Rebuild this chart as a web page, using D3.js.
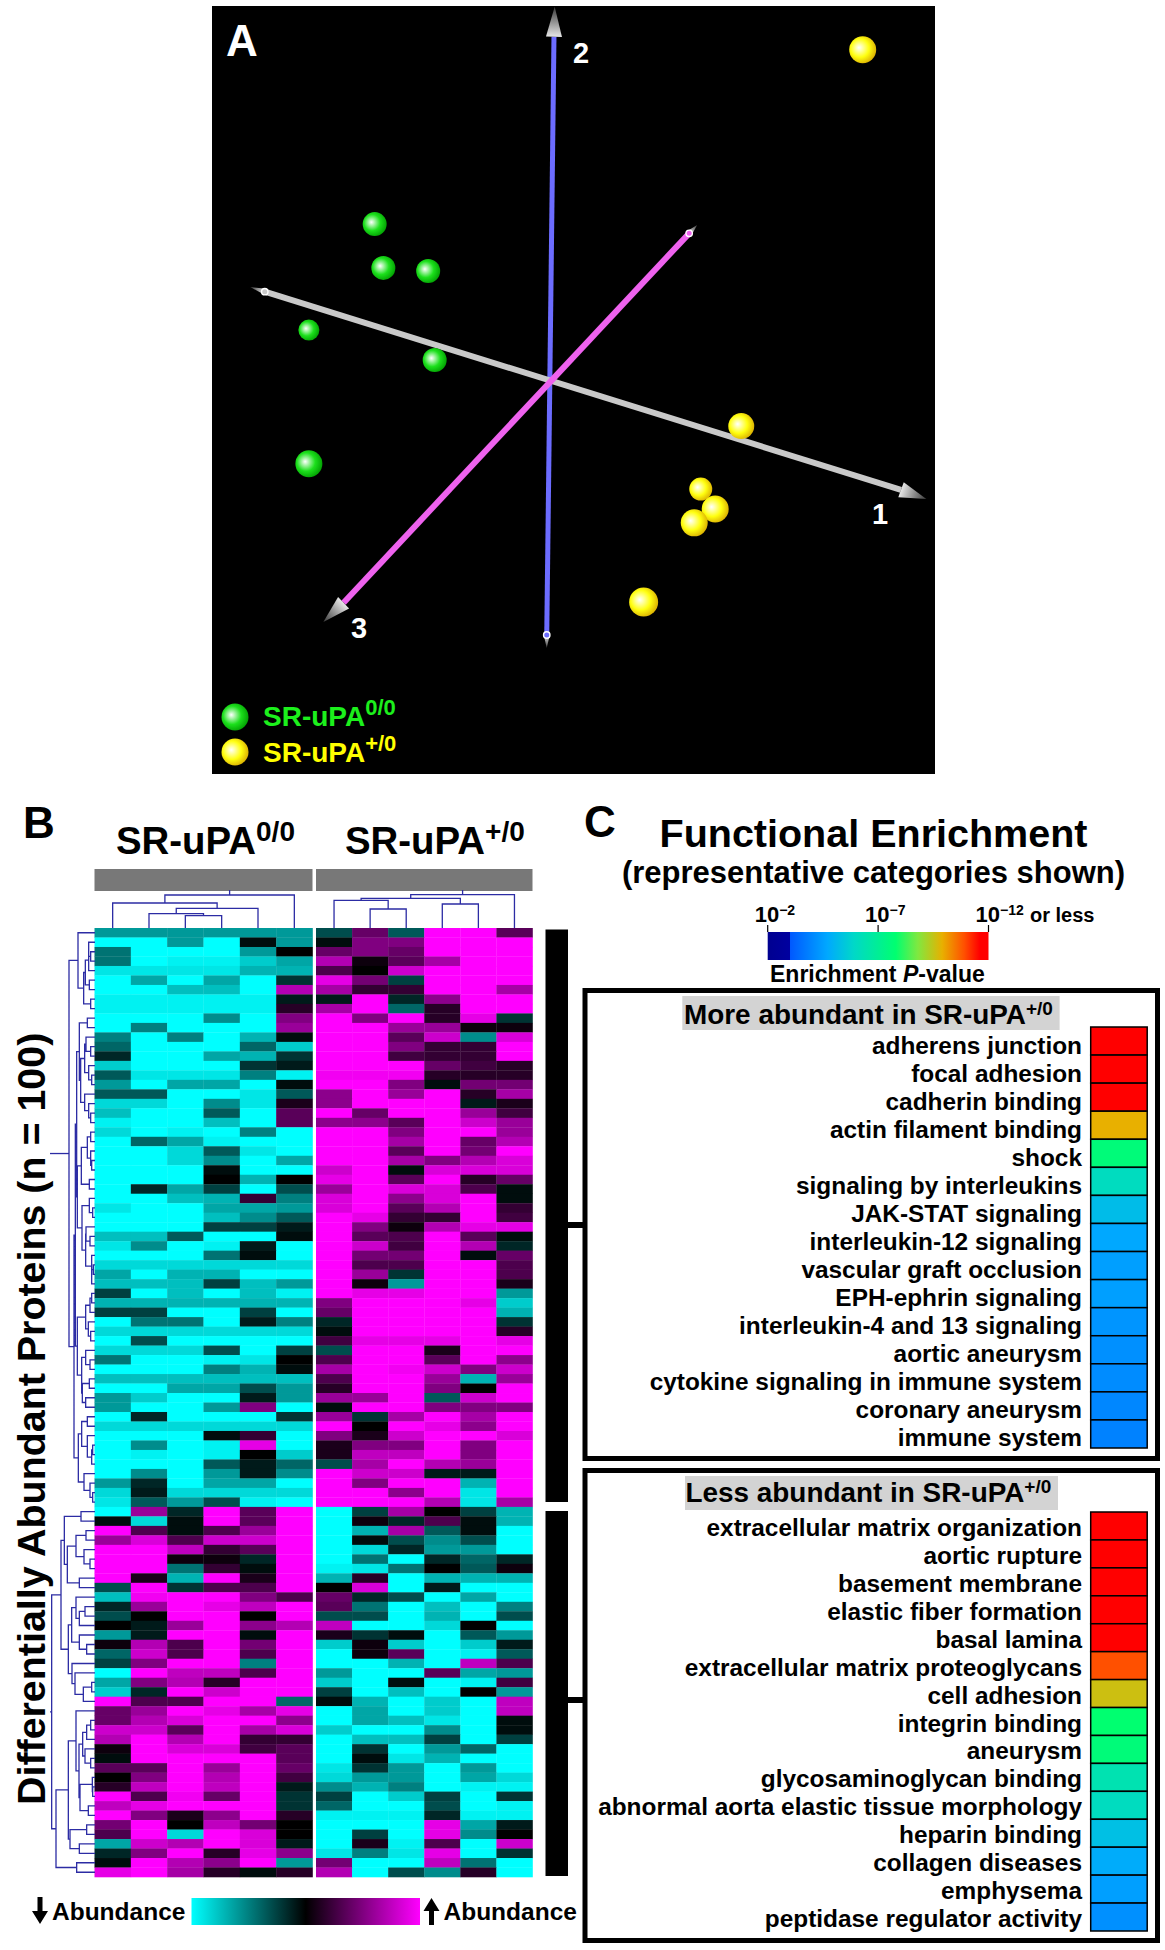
<!DOCTYPE html>
<html>
<head>
<meta charset="utf-8">
<style>
html, body { margin: 0; padding: 0; background: #fff; }
svg { display: block; }
text { font-family: "Liberation Sans", Arial, sans-serif; font-weight: bold; }
</style>
<script src="https://cdn.jsdelivr.net/npm/d3@7"></script>
</head>
<body>
<div id="chart"></div>
<script>
// heatmap values, -10 = full cyan, 0 = black, 10 = full magenta
const heatNull = [
[-6,-6,-6,-6,-6,-6],[-10,-10,-6,-10,-.5,-6],[-4.5,-10,-10,-10,-6,0],[-4.5,-10,-9.5,-9.5,-8,-6.5],[-9,-9,-9,-9,-7,-7],
[-10,-6.5,-10,-6.5,-10,-2],[-10,-10,-7.5,-7.5,-10,7],[-9.5,-9.5,-9.5,-9.5,-9.5,-1],[-9.5,-9.5,-9.5,-9.5,-9.5,1.5],[-10,-10,-10,-5.5,-10,5],
[-10,-5,-10,-10,-10,6],[-5,-10,-5,-10,-7,-.5],[-4,-10,-10,-10,-4,-8],[-1.5,-10,-10,-6.5,-7,-2],[-8,-10,-10,-10,-2,-1],
[-3.5,-9,-9,-9,-5,-9.5],[-6,-10,-6.5,-6.5,-10,-.5],[-3.5,-3.5,-10,-10,-9,-3.5],[-8.5,-8.5,-10,-5.5,-9,1],[-7.5,-10,-10,-3.5,-10,3.5],
[-9.5,-10,-10,-7.5,-10,3.5],[-8.5,-10,-9.5,-10,-5,-10],[-10,-4,-6.5,-9.5,-10,-10],[-10,-10,-8.5,-3.5,-9,-10],[-10,-10,-8.5,-5.5,-10,-6.5],
[-10,-10,-10,-.5,-10,-10],[-10,-10,-10,0,-7,0],[-10,-1.5,-6.5,-2.5,-10,-3],[-10,-10,-7.5,-7,2,-5],[-9,-10,-10,-6.5,-6.5,-6],
[-10,-10,-10,-7.5,-5.5,-3.5],[-10,-10,-10,-2.5,-2.5,-1],[-7.5,-7.5,-3.5,-10,-10,-.5],[-9,-5.5,-10,-9.5,-1,-10],[-10,-10,-10,-4.5,-.5,-10],
[-8.5,-8.5,-8.5,-8.5,-8.5,-8.5],[-6.5,-10,-7,-7,-10,-10],[-7.5,-7.5,-7.5,-2.5,-7.5,-6],[-2.5,-10,-7.5,-10,-7.5,-9.5],[-7,-7,-7,-7,-7,-7],
[-2.5,-2.5,-10,-10,-2.5,-10],[-10,-4.5,-4.5,-10,-1,-5],[-8.5,-8.5,-8.5,-8.5,-8.5,-8.5],[-10,-3,-10,-10,-10,-10],[-8.5,-8.5,-8.5,-3,-10,-2.5],
[-4.5,-10,-10,-9.5,-9,0],[-10,-10,-10,-5,-7,-.5],[-7.5,-7.5,-7.5,-7.5,-7.5,-7.5],[-10,-10,-6.5,-6.5,-3,-6],[-6,-8,-10,-10,-1,-6],
[-6,-10,-10,-6,5,-10],[-10,-1.5,-10,-10,-10,-2],[-8.5,-8.5,-8.5,-8.5,-8.5,-8.5],[-10,-10,-10,-.5,2,-10],[-10,-5.5,-10,-9.5,9,-10],
[-10,-9.5,-10,-9.5,0,-8],[-10,-10,-10,-3.5,-1,-4],[-10,-5.5,-10,-6,-1,-5.5],[-6,-1.5,-10,-6.5,-6.5,-10],[-8.5,-1,-8.5,-8.5,-8.5,-8.5],
[-9,-3.5,-6,-3,-9.5,-10],[-10,6,-1.5,10,3.5,10],[-.5,-8.5,-.5,10,3.5,10],[10,3,-.5,3,6,10],[6,8.5,3,8,8,10],
[10,10,7.5,2,3.5,10],[10,10,.5,.5,-1.5,10],[10,10,-4.5,2,-.5,10],[10,1,-7,10,1,10],[-3,10,-2,3,3,10],
[-7.5,9.5,10,10,5,3],[-1.5,6,10,9,7.5,10],[-3,0,10,10,0,10],[0,-1,6,10,5.5,7],[-6,-1,10,10,-.5,10],
[.5,7,3,10,4.5,10],[-4,8,3,10,3,10],[-2.5,5,10,10,-5,10],[-10,10,7.5,7.5,3,10],[-6.5,5,7,1.5,10,10],
[-8,-1.5,10,8,10,10],[10,3,3,10,10,-4],[4,6,10,9,6.5,9],[4,7,8.5,10,10,5.5],[8,8,3.5,10,6.5,8.5],
[7,10,7,10,2,2],[.5,10,8.5,8.5,2.5,3.5],[-.5,10,10,10,10,3.5],[3.5,3.5,10,6,10,4],[0,5,10,7,10,2.5],
[1.5,7.5,10,7.5,10,-1],[10,3,9.5,4,10,-2],[7.5,9,10,10,10,-2],[10,5,1,5.5,10,1.5],[4.5,10,0,7.5,4.5,0],
[3,10,-8.5,10,8.5,0],[-6.5,8,7,10,8.5,-1],[-1.5,5,10,1.5,9,5.5],[-.5,10,7,5.5,10,-6],[9,10,6.5,1.5,-.5,1.5]
];
const heatPlus = [
[-3,4,-3.5,10,10,3.5],[-.5,5,5,10,10,10],[4,5,4,10,10,10],[7,.5,3.5,6.5,10,10],[3,0,8,10,10,10],
[9,4.5,-2.5,10,10,10],[6.5,2,2,10,10,6.5],[-1,10,-1.5,5.5,10,10],[6.5,10,-4,1.5,10,10],[10,5,10,1.5,9,-2],
[10,10,6,6,.5,.5],[10,10,3.5,8,-5.5,8.5],[10,10,5,2,2,10],[10,10,2.5,2,2,10],[10,10,10,4,2.5,1.5],
[9.5,9.5,9.5,1.5,1.5,1.5],[10,10,5,-.5,4.5,4.5],[5.5,10,6,10,1.5,6.5],[5.5,10,10,10,-1,1],[10,4,10,10,6,2.5],
[5.5,5.5,3.5,10,8,6],[10,10,5,10,10,6],[10,10,6.5,10,4,7],[10,10,3.5,10,4.5,10],[10,10,6.5,5,7,8.5],
[8,10,-.5,8.5,8.5,8.5],[9,10,3.5,10,1.5,4],[6,10,8.5,8.5,3,-.5],[8.5,10,5.5,8.5,10,-.5],[8.5,10,3.5,7,10,2],
[10,9,2,2,10,2.5],[10,5,.5,7,9,9],[10,3.5,3,10,3.5,-.5],[10,8,2.5,10,7,-1.5],[10,4.5,4.5,10,-.5,4],
[10,3,3,10,10,3],[10,6,-2,10,10,3],[10,.5,-6,10,10,1],[10,9,9,10,10,-6],[5,10,10,10,9,-8],
[4,10,10,10,10,-7],[-1.5,10,10,10,10,-2],[-.5,10,10,10,10,1.5],[2.5,9,9,9,10,9],[-3,10,10,1,10,10],
[3,10,10,3.5,10,5.5],[6.5,10,9.5,8,5,8],[3,10,10,6,-7,6],[1.5,10,10,5,0,10],[6,6,10,-3.5,8,10],
[-.5,10,10,5,5,5],[6,-2,6.5,10,6.5,10],[10,0,10,9,5.5,10],[5,1,8,10,10,8.5],[1,5,5,10,5,10],
[1,7.5,7.5,10,5,10],[-3,6.5,10,7,6,10],[10,8,8,-1,-1,10],[10,5,10,10,-7,10],[10,10,5.5,10,-9,10],
[10,10,10,7,-9,6.5],[-10,-2.5,6.5,0,-2.5,-7],[-10,.5,-1.5,3,-.5,-7],[-10,-7,6.5,-3.5,-.5,-10],[-10,-.5,-3,-5.5,-3,-10],
[-10,-8.5,-1.5,-6,-6,-10],[-10,-4.5,-10,-1.5,-4,-1.5],[-9.5,-9,-4.5,0,-3.5,.5],[-7,1.5,-10,-7,-7,-7],[0,8.5,-10,-1,-10,-10],
[4,-1.5,-3,-10,-6.5,-10],[3.5,-4.5,-10,-7.5,-10,-5],[-3,-3,-10,-7,-10,-3],[7.5,-10,-10,-8.5,0,-10],[1,-2,-.5,-10,-3.5,-6],
[-8,.5,-8,-10,-8,-1],[-10,.5,3.5,-10,-9.5,-3.5],[-10,-10,-7,-10,7.5,3],[-6,-10,-10,3.5,-6.5,-6],[-8,-10,-.5,-10,-9.5,2.5],
[-2.5,-10,-7.5,-10,0,-6],[-.5,-7,-10,-8,-10,7.5],[-10,-6.5,-10,-8,-10,7.5],[-10,-6.5,-7.5,-9,-10,-.5],[-8,-10,-10,-5.5,-10,-.5],
[-10,-7.5,-7.5,-2.5,-10,-2.5],[-10,-2,-10,-6,-4,-10],[-10,-.5,-9,-7,-10,-10],[-9,-2,-6,-10,-6,-10],[-8.5,-6,-6,-10,-6.5,-8.5],
[-5.5,-7,-5,-10,-9.5,-9.5],[-2.5,-10,-8,-2.5,-10,-2],[-4,-10,-10,-3,-10,-9.5],[-9.5,-9.5,-9.5,-1.5,-9.5,-9.5],[-10,-10,-10,9,-6.5,-1],
[-10,-2.5,-10,9,-5.5,0],[-10,1,-9.5,3,-10,8],[-9,-5,-9,9,-10,-2],[4.5,-10,-10,7.5,-4.5,-10],[7,-10,-3,-5.5,1.5,-10]
];

// row dendrograms: [merge level, child, child], leaves are row numbers
const rowTreeUp = [57,
  [84,0,[101,[106,[116,[116,1,[122,2,3]],4],[118,5,6]],[122,7,8]]],
  [72,[76,
    [80,
      [88,[112,9,10],[92,[104,[108,11,[122,12,13]],[116,14,[125,15,16]]],[104,17,[116,18,[122,19,20]]]]],
      [82,[94,[112,[122,21,22],[122,23,[125,24,25]]],[118,26,27]],
        [96,[118,28,[128,29,30]],[107,[108,31,[120,32,33]],[125,34,[125,[130,35,36],37]]]]]],
    [82,[107,[120,[125,38,39],40],[115,41,[122,42,43]]],[95,[107,44,[120,45,46]],[97,[118,47,48],[107,49,50]]]]],
    [85,[95,[112,51,52],[112,53,[125,[128,54,55],56]]],[102,57,[120,58,[128,59,60]]]]]
];
const rowTreeDown = [5,
  [33,
    [43,[93,61,62],[52,[78,[108,63,64],[102,65,[120,66,67]]],[88,68,69]]],
    [55,[65,[78,70,[88,[105,71,72],73]],[88,74,[110,75,76]]],[66,77,[75,78,[100,[125,79,80],81]]]]],
  [18,
    [55,[78,82,[87,[98,[110,[122,83,84],85],[105,86,[122,87,88]]],[90,[127,89,[128,90,91]],[115,92,93]]]],
      [60,[110,94,95],[88,96,97]]],
    [80,98,99]]
];
// column dendrograms, levels are height above the heatmap
const colTreeNull = [33,[25,0,[19.7,[14.3,1,[12.3,2,3]],4]],5];
const colTreePlus = [33.3,[29.7,[27.7,0,[19,1,2]],[24,3,4]],5];

// panel A, projected sample positions [axis x, axis y, depth]
const sphereNull = [[22.5,71.6,40],[23.7,65.9,40],[29.9,65.5,40],[13.4,57.8,10],[30.8,53.9,40],[13.4,40.4,70]];
const spherePlus = [[90,94.3,70],[73.2,45.3,60],[67.6,37.1,30],[69.6,34.5,70],[66.7,32.7,70],[59.7,22.4,90]];
// axes: colour, tail end, head end, tail cone tip, head cone tip
const pcAxes = [
  {name:'2', color:'#6c6cff', width:5, from:[46.3,18.1], to:[47.3,96], fromTip:[46.3,16.4], toTip:[47.4,99.9]},
  {name:'1', color:'#c9c9c9', width:6, from:[7.3,62.8], to:[95.3,37], fromTip:[5.3,63.4], toTip:[98.8,35.8]},
  {name:'3', color:'#ee62ee', width:6, from:[66,70.4], to:[18.2,22.3], fromTip:[67.1,71.5], toTip:[15.4,19.8]}
];

// panel C, -log10(P) of each category
const moreLabels = ['adherens junction','focal adhesion','cadherin binding','actin filament binding','shock','signaling by interleukins','JAK-STAT signaling','interleukin-12 signaling','vascular graft occlusion','EPH-ephrin signaling','interleukin-4 and 13 signaling','aortic aneurysm','cytokine signaling in immune system','coronary aneurysm','immune system'];
const moreValues = [12,12,12,9.9,7.6,6.1,5.2,4.7,4.5,4.5,4.3,4.2,4.1,4,3.9];
const lessLabels = ['extracellular matrix organization','aortic rupture','basement membrane','elastic fiber formation','basal lamina','extracellular matrix proteoglycans','cell adhesion','integrin binding','aneurysm','glycosaminoglycan binding','abnormal aorta elastic tissue morphology','heparin binding','collagen diseases','emphysema','peptidase regulator activity'];
const lessValues = [12,12,12,12,12,10.9,9.6,7.8,7.6,6.4,6.1,5.3,4.8,4.5,4.2];
const pStops = [2,3,3.01,4.7,5.9,7.8,8.8,9.9,10.9,11.6,12];
const pColors = ['#000090','#0000a0','#0058ff','#00a8ff','#00d8c8','#00ff70','#80e840','#e8b000','#ff5000','#ff0000','#ff0000'];
const pTicks = [2,7,12];

const svg = d3.select('#chart').append('svg').attr('width', 1165).attr('height', 1950);
const defs = svg.append('defs');

// text with a raised tail, used for all the SR-uPA labels
function supText(g, x, y, main, sup, size, supSize, rise, fill) {
  const t = g.append('text').attr('x', x).attr('y', y).attr('fill', fill || '#000').attr('font-size', size);
  t.append('tspan').text(main);
  t.append('tspan').attr('font-size', supSize).attr('dy', -rise).text(sup);
  return t;
}

/* ---------- panel A ---------- */
const a = svg.append('g');
a.append('rect').attr('x', 212).attr('y', 6).attr('width', 723).attr('height', 768).attr('fill', '#000');
const ax = d3.scaleLinear().domain([0, 100]).range([212, 935]);
const ay = d3.scaleLinear().domain([0, 100]).range([774, 6]);
const ar = d3.scaleLinear().domain([0, 100]).range([10, 15]);

function sphereGrad(id, mid, edge) {
  const g = defs.append('radialGradient').attr('id', id).attr('cx', .42).attr('cy', .45).attr('r', .62).attr('fx', .36).attr('fy', .42);
  g.append('stop').attr('offset', '0%').attr('stop-color', '#fff');
  g.append('stop').attr('offset', '55%').attr('stop-color', mid);
  g.append('stop').attr('offset', '100%').attr('stop-color', edge);
}
sphereGrad('gNull', '#1ce01c', '#009a00');
sphereGrad('gPlus', '#ffff10', '#d8a800');

pcAxes.forEach((d, i) => {
  a.append('line')
    .attr('x1', ax(d.from[0])).attr('y1', ay(d.from[1]))
    .attr('x2', ax(d.to[0])).attr('y2', ay(d.to[1]))
    .attr('stroke', d.color).attr('stroke-width', d.width);
  // big cone at the labelled end, tiny one behind a ring at the other
  [[d.to, d.toTip, 8, 'h'], [d.from, d.fromTip, 3, 't']].forEach(([base, tip, w, k]) => {
    const bx = ax(base[0]), by = ay(base[1]), tx = ax(tip[0]), ty = ay(tip[1]);
    const len = Math.hypot(tx - bx, ty - by), nx = (ty - by) / len, ny = -(tx - bx) / len;
    const id = 'cone' + i + k;
    const lg = defs.append('linearGradient').attr('id', id).attr('gradientUnits', 'userSpaceOnUse')
      .attr('x1', bx).attr('y1', by).attr('x2', tx).attr('y2', ty);
    lg.append('stop').attr('offset', '0%').attr('stop-color', '#e6e6e6');
    lg.append('stop').attr('offset', '100%').attr('stop-color', '#3a3a3a');
    a.append('path')
      .attr('d', `M${bx + nx * w},${by + ny * w}L${tx},${ty}L${bx - nx * w},${by - ny * w}Z`)
      .attr('fill', `url(#${id})`);
    if (k === 't') {
      a.append('circle').attr('cx', bx).attr('cy', by).attr('r', 3.2)
        .attr('fill', d.color).attr('stroke', '#fff').attr('stroke-width', 1.4);
    }
  });
});

a.selectAll('circle.nul').data(sphereNull).join('circle').attr('class', 'nul')
  .attr('cx', d => ax(d[0])).attr('cy', d => ay(d[1])).attr('r', d => ar(d[2])).attr('fill', 'url(#gNull)');
a.selectAll('circle.plu').data(spherePlus).join('circle').attr('class', 'plu')
  .attr('cx', d => ax(d[0])).attr('cy', d => ay(d[1])).attr('r', d => ar(d[2])).attr('fill', 'url(#gPlus)');

a.append('text').attr('x', 226).attr('y', 56).attr('font-size', 44).attr('fill', '#fff').text('A');
a.append('text').attr('x', 581).attr('y', 63).attr('text-anchor', 'middle').attr('font-size', 29).attr('fill', '#fff').text('2');
a.append('text').attr('x', 880).attr('y', 524).attr('text-anchor', 'middle').attr('font-size', 29).attr('fill', '#fff').text('1');
a.append('text').attr('x', 359).attr('y', 638).attr('text-anchor', 'middle').attr('font-size', 29).attr('fill', '#fff').text('3');

a.append('circle').attr('cx', 235).attr('cy', 717).attr('r', 13.5).attr('fill', 'url(#gNull)');
a.append('circle').attr('cx', 235).attr('cy', 752).attr('r', 13.5).attr('fill', 'url(#gPlus)');
supText(a, 263, 726, 'SR-uPA', '0/0', 28, 22, 11, '#1cf01c');
supText(a, 263, 762, 'SR-uPA', '+/0', 28, 22, 11, '#ffff00');

/* ---------- panel B ---------- */
const b = svg.append('g');
b.append('text').attr('x', 23).attr('y', 838).attr('font-size', 44).text('B');
supText(b, 116, 854, 'SR-uPA', '0/0', 38.4, 28, 13);
supText(b, 345, 854, 'SR-uPA', '+/0', 38.4, 28, 13);

const heatColor = d3.scaleLinear().domain([-10, 0, 10]).range(['#00ffff', '#000000', '#ff00ff']);
const rowY = d3.scaleBand().domain(d3.range(heatNull.length)).range([928, 1877]);
const colNull = d3.scaleBand().domain(d3.range(6)).range([94.5, 312.5]);
const colPlus = d3.scaleBand().domain(d3.range(6)).range([316, 532.5]);

b.append('rect').attr('x', colNull.range()[0]).attr('y', 869).attr('width', 218).attr('height', 22).attr('fill', '#787878');
b.append('rect').attr('x', colPlus.range()[0]).attr('y', 869).attr('width', 216.5).attr('height', 22).attr('fill', '#787878');

[[heatNull, colNull], [heatPlus, colPlus]].forEach(([rows, col]) => {
  const rg = b.append('g').selectAll('g').data(rows).join('g').attr('transform', (d, i) => `translate(0,${rowY(i)})`);
  rg.selectAll('rect').data(d => d).join('rect')
    .attr('x', (d, i) => col(i))
    .attr('width', col.bandwidth() + .3)
    .attr('height', rowY.bandwidth() + .3)
    .attr('fill', d => heatColor(d));
});

// dendrogram elbows; position of a node is the mean of its children
const treeKids = d => Array.isArray(d) ? d.slice(1) : null;
const level = d => Array.isArray(d.data) ? d.data[0] : null;
function elbows(root, leafPos, mergePos, leafEdge, horizontal) {
  const h = d3.hierarchy(root, treeKids);
  h.eachAfter(n => { n.p = n.children ? d3.mean(n.children, c => c.p) : leafPos(n.data); });
  const path = d3.path();
  const mv = (u, v) => horizontal ? path.moveTo(u, v) : path.moveTo(v, u);
  const ln = (u, v) => horizontal ? path.lineTo(u, v) : path.lineTo(v, u);
  h.descendants().filter(n => n.children).forEach(n => {
    const m = mergePos(level(n));
    n.children.forEach(c => {
      mv(m, n.p); ln(m, c.p);
      ln(c.children ? mergePos(level(c)) : leafEdge, c.p);
    });
  });
  return {d: path.toString(), rootPos: h.p, rootAt: mergePos(level(h))};
}

const rowLevel = d3.scaleLinear().domain([0, 135]).range([50, 95]);
const colLevel = d3.scaleLinear().domain([0, 38]).range([928, 890]);
const dendroColor = '#2c2ca4';
const dendroWidth = 1.3;
[rowTreeUp, rowTreeDown].forEach(t => {
  const e = elbows(t, i => rowY(i) + rowY.bandwidth() / 2, rowLevel, 95, true);
  b.append('path').attr('d', e.d).attr('fill', 'none').attr('stroke', dendroColor).attr('stroke-width', dendroWidth);
  b.append('line').attr('x1', rowLevel(0)).attr('x2', e.rootAt).attr('y1', e.rootPos).attr('y2', e.rootPos)
    .attr('stroke', dendroColor).attr('stroke-width', dendroWidth);
});
[[colTreeNull, colNull], [colTreePlus, colPlus]].forEach(([t, col]) => {
  const e = elbows(t, i => col(i) + col.bandwidth() / 2, colLevel, 928, false);
  b.append('path').attr('d', e.d).attr('fill', 'none').attr('stroke', dendroColor).attr('stroke-width', dendroWidth);
  b.append('line').attr('x1', e.rootPos).attr('x2', e.rootPos).attr('y1', e.rootAt).attr('y2', colLevel(38))
    .attr('stroke', dendroColor).attr('stroke-width', dendroWidth);
});

b.append('text').attr('transform', 'translate(45,1805) rotate(-90)').attr('font-size', 39.4)
  .text('Differentially Abundant Proteins (n = 100)');

// black brackets tying the clusters to panel C
b.append('rect').attr('x', 545.5).attr('y', 929.5).attr('width', 22.5).attr('height', 572.5);
b.append('rect').attr('x', 545.5).attr('y', 1511).attr('width', 22.5).attr('height', 365);
b.append('rect').attr('x', 568).attr('y', 1222).attr('width', 16).attr('height', 6);
b.append('rect').attr('x', 568).attr('y', 1697).attr('width', 16).attr('height', 6);

// abundance key
const kg = defs.append('linearGradient').attr('id', 'abund');
kg.append('stop').attr('offset', '0%').attr('stop-color', heatColor(-10));
kg.append('stop').attr('offset', '50%').attr('stop-color', heatColor(0));
kg.append('stop').attr('offset', '100%').attr('stop-color', heatColor(10));
b.append('rect').attr('x', 191.5).attr('y', 1898).attr('width', 228.5).attr('height', 27).attr('fill', 'url(#abund)');
b.append('path').attr('d', 'M37.5,1897h5v14h5.5l-8,13l-8,-13h5.5z');
b.append('path').attr('d', 'M429,1925h5v-14h5.5l-8,-13l-8,13h5.5z');
b.append('text').attr('x', 52).attr('y', 1920).attr('font-size', 24.5).text('Abundance');
b.append('text').attr('x', 443.5).attr('y', 1920).attr('font-size', 24.5).text('Abundance');

/* ---------- panel C ---------- */
const c = svg.append('g');
c.append('text').attr('x', 584).attr('y', 837).attr('font-size', 44).text('C');
c.append('text').attr('x', 873.5).attr('y', 847).attr('text-anchor', 'middle').attr('font-size', 39.5).text('Functional Enrichment');
c.append('text').attr('x', 873.5).attr('y', 883).attr('text-anchor', 'middle').attr('font-size', 31).text('(representative categories shown)');

const pColor = d3.scaleLinear().domain(pStops).range(pColors);
const pScale = d3.scaleLinear().domain([2, 12]).range([767.7, 988.5]);
const pg = defs.append('linearGradient').attr('id', 'pbar');
pStops.forEach(s => pg.append('stop').attr('offset', (s - 2) / 10).attr('stop-color', pColor(s)));
c.append('rect').attr('x', pScale(2)).attr('y', 932).attr('width', pScale(12) - pScale(2)).attr('height', 28).attr('fill', 'url(#pbar)');
pTicks.forEach(t => {
  c.append('line').attr('x1', pScale(t)).attr('x2', pScale(t)).attr('y1', 925).attr('y2', 932)
    .attr('stroke', '#000').attr('stroke-width', 1.2);
  const lab = c.append('text').attr('y', 922).attr('font-size', 22)
    .attr('x', pScale(t) - 13);
  lab.append('tspan').text('10');
  lab.append('tspan').attr('font-size', 14).attr('dy', -7).text('\u2212' + t);
});
c.append('text').attr('x', 1030).attr('y', 922).attr('font-size', 20).text('or less');
const ev = c.append('text').attr('x', 770).attr('y', 982).attr('font-size', 23);
ev.append('tspan').text('Enrichment ');
ev.append('tspan').attr('font-style', 'italic').text('P');
ev.append('tspan').text('-value');

function enrichBox(top, bottom, hdrX, hdrW, hdrTop, hdrText, hdrTextX, hdrTextY, swTop, swBottom, labelDy, labels, values) {
  c.append('rect').attr('x', 585).attr('y', top + 2.5).attr('width', 572.5).attr('height', bottom - top - 5)
    .attr('fill', 'none').attr('stroke', '#000').attr('stroke-width', 5);
  c.append('rect').attr('x', hdrX).attr('y', hdrTop).attr('width', hdrW).attr('height', 34).attr('fill', '#d3d3d3');
  supText(c, hdrTextX, hdrTextY, hdrText, '+/0', 27.9, 19, 9);
  const y = d3.scaleBand().domain(labels).range([swTop, swBottom]);
  c.selectAll(null).data(labels).join('rect')
    .attr('x', 1090.7).attr('y', d => y(d)).attr('width', 56.5).attr('height', y.bandwidth())
    .attr('fill', (d, i) => pColor(values[i])).attr('stroke', '#000').attr('stroke-width', 1.5);
  c.selectAll(null).data(labels).join('text')
    .attr('x', 1082).attr('y', d => y(d) + y.bandwidth() / 2 + labelDy)
    .attr('text-anchor', 'end').attr('font-size', 24.4).text(d => d);
}
enrichBox(988, 1461, 682.3, 377.3, 996, 'More abundant in SR-uPA', 684, 1024, 1027, 1448, 12.5, moreLabels, moreValues);
enrichBox(1468, 1943, 685, 373, 1476, 'Less abundant in SR-uPA', 685.5, 1502, 1512, 1931, 10, lessLabels, lessValues);
</script>
</body>
</html>
